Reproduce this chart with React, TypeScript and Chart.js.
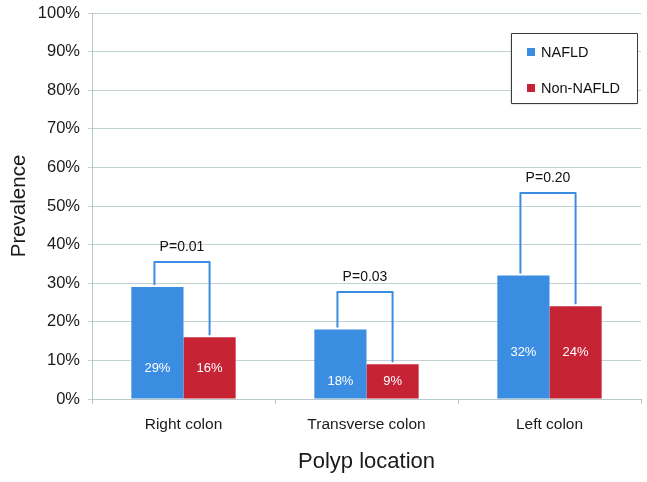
import React, { useEffect, useRef } from "react";
import { Chart, registerables } from "chart.js";

Chart.register(...registerables);

const categories = ["Right colon", "Transverse colon", "Left colon"];
const naflValues = [29, 18, 32];
const nonNaflValues = [16, 9, 24];
const bracketLevels = [35.5, 27.7, 53.4];
const pValues = ["P=0.01", "P=0.03", "P=0.20"];
const yTicks = [0, 10, 20, 30, 40, 50, 60, 70, 80, 90, 100];

const BLUE = "#3b8de2";
const RED = "#c62334";
const FONT = "'Liberation Sans', Arial, Helvetica, sans-serif";

const overlayPlugin = {
  id: "overlay",
  afterDatasetsDraw(chart: any) {
    const ctx = chart.ctx;
    const y = chart.scales.y;
    const m0 = chart.getDatasetMeta(0);
    const m1 = chart.getDatasetMeta(1);
    ctx.save();
    // value labels inside bars (vertically centred on the shorter bar of each pair)
    ctx.fillStyle = "#ffffff";
    ctx.font = `13px ${FONT}`;
    ctx.textAlign = "center";
    ctx.textBaseline = "middle";
    categories.forEach((_c, i) => {
      const base = y.getPixelForValue(0);
      const low = Math.min(naflValues[i], nonNaflValues[i]);
      const cy = (base + y.getPixelForValue(low)) / 2;
      ctx.fillText(naflValues[i] + "%", m0.data[i].x, cy);
      ctx.fillText(nonNaflValues[i] + "%", m1.data[i].x, cy);
    });
    // brackets
    ctx.strokeStyle = BLUE;
    ctx.lineWidth = 2;
    ctx.lineJoin = "round";
    categories.forEach((_c, i) => {
      const b0 = m0.data[i];
      const b1 = m1.data[i];
      const lx = b0.x - 3;
      const rx = b1.x;
      const ty = y.getPixelForValue(bracketLevels[i]);
      const ly = y.getPixelForValue(naflValues[i]) - 2;
      const ry = y.getPixelForValue(nonNaflValues[i]) - 2;
      ctx.beginPath();
      ctx.moveTo(lx, ly);
      ctx.lineTo(lx, ty);
      ctx.lineTo(rx, ty);
      ctx.lineTo(rx, ry);
      ctx.stroke();
      ctx.fillStyle = "#111111";
      ctx.font = `14px ${FONT}`;
      ctx.fillText(pValues[i], (lx + rx) / 2, ty - 15);
    });
    // legend box
    const bx = 511, by = 33, bw = 126, bh = 70;
    ctx.fillStyle = "#ffffff";
    ctx.shadowColor = "rgba(0,0,0,0.25)";
    ctx.shadowBlur = 2;
    ctx.shadowOffsetY = 1;
    ctx.fillRect(bx, by, bw, bh);
    ctx.shadowColor = "transparent";
    ctx.strokeStyle = "#3a3a3a";
    ctx.lineWidth = 1;
    ctx.strokeRect(bx + 0.5, by + 0.5, bw, bh);
    const items = chart.data.datasets.map((d: any) => ({ label: d.label, color: d.backgroundColor }));
    items.forEach((it: any, k: number) => {
      const iy = by + 19 + k * 36;
      ctx.fillStyle = it.color;
      ctx.fillRect(bx + 16, iy - 4, 8, 8);
      ctx.fillStyle = "#111111";
      ctx.font = `14.5px ${FONT}`;
      ctx.textAlign = "left";
      ctx.fillText(it.label, bx + 30, iy + 1);
    });
    ctx.restore();
  },
};

export default function App() {
  const ref = useRef<HTMLCanvasElement>(null);
  useEffect(() => {
    document.body.style.margin = "0";
    const chart = new Chart(ref.current as HTMLCanvasElement, {
      type: "bar",
      data: {
        labels: categories,
        datasets: [
          { label: "NAFLD", data: naflValues, backgroundColor: BLUE, categoryPercentage: 0.57, barPercentage: 1.0 },
          { label: "Non-NAFLD", data: nonNaflValues, backgroundColor: RED, categoryPercentage: 0.57, barPercentage: 1.0 },
        ],
      },
      options: {
        animation: false,
        responsive: false,
        maintainAspectRatio: false,
        layout: { padding: { top: 13, right: 6, left: 0, bottom: 0 } },
        plugins: { legend: { display: false }, tooltip: { enabled: false } },
        scales: {
          x: {
            grid: { display: true, drawOnChartArea: false, drawTicks: true, tickLength: 5, offset: true, color: "#b9c7ca" },
            border: { display: true, color: "#b9c7ca", width: 1 },
            ticks: { color: "#1a1a1a", font: { family: FONT, size: 15.5 }, padding: 11 },
            title: { display: true, text: "Polyp location", color: "#1a1a1a", font: { family: FONT, size: 22 }, padding: { top: 2, bottom: 7 } },
            afterFit: (s: any) => { s.height = 83; },
          },
          y: {
            min: 0,
            max: 100,
            afterBuildTicks: (s: any) => { s.ticks = yTicks.map((v) => ({ value: v })); },
            grid: { color: "#c3d1d4", tickLength: 4 },
            border: { display: true, color: "#b9c7ca" },
            ticks: { color: "#1a1a1a", font: { family: FONT, size: 16.5 }, padding: 8, callback: (v: any) => v + "%" },
            title: { display: true, text: "Prevalence", color: "#1a1a1a", font: { family: FONT, size: 20.5 }, padding: { top: 7, bottom: 4 } },
            afterFit: (s: any) => { s.width = 92; s.paddingTop = 2; s.paddingBottom = 2; },
          },
        },
      },
      plugins: [overlayPlugin],
    });
    return () => chart.destroy();
  }, []);
  return (
    <div style={{ width: 647, height: 482 }}>
      <canvas ref={ref} width={647} height={482} style={{ width: 647, height: 482 }} />
    </div>
  );
}
